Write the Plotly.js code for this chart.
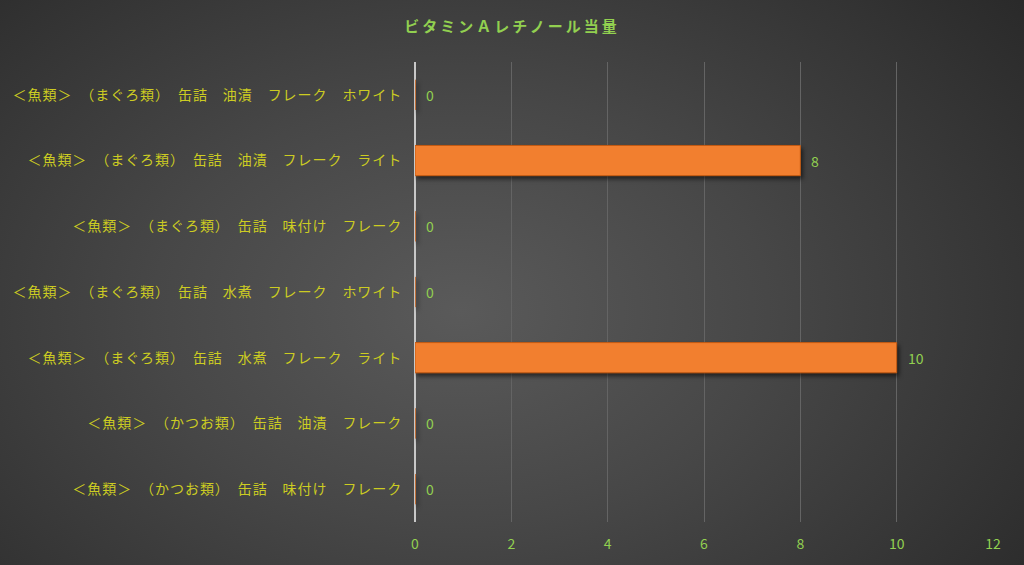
<!DOCTYPE html>
<html><head><meta charset="utf-8">
<script src="https://cdn.plot.ly/plotly-3.0.1.min.js"></script>
<style>
html,body{margin:0;padding:0;width:1024px;height:565px;overflow:hidden;}
body{background:radial-gradient(ellipse 75% 95% at 45% 55%, #5a5a5a 0%, #474747 40%, #262626 100%);}
#chart{width:1024px;height:565px;}
.gtitle{letter-spacing:3px;}
.ytick text{letter-spacing:0.95px;}
.bars .point path{filter:drop-shadow(2px 3px 2px rgba(0,0,0,0.55));}
</style></head>
<body><div id="chart"></div>
<script>
const categories = [
  "＜魚類＞　（まぐろ類）　缶詰　油漬　フレーク　ホワイト",
  "＜魚類＞　（まぐろ類）　缶詰　油漬　フレーク　ライト",
  "＜魚類＞　（まぐろ類）　缶詰　味付け　フレーク",
  "＜魚類＞　（まぐろ類）　缶詰　水煮　フレーク　ホワイト",
  "＜魚類＞　（まぐろ類）　缶詰　水煮　フレーク　ライト",
  "＜魚類＞　（かつお類）　缶詰　油漬　フレーク",
  "＜魚類＞　（かつお類）　缶詰　味付け　フレーク"
];
const values = [0, 8, 0, 0, 10, 0, 0];
const chartTitle = "ビタミンＡレチノール当量";
const xTicks = [0, 2, 4, 6, 8, 10, 12];

const font = '"Noto Sans CJK JP", "Noto Sans", sans-serif';
const labels = values.map((v, i) => ({
  x: v, y: categories[i], xref: 'x', yref: 'y',
  text: String(v), showarrow: false, xanchor: 'left', xshift: 9,
  font: {family: font, size: 14, color: '#92d050'}
}));
Plotly.newPlot('chart', [{
  type: 'bar',
  orientation: 'h',
  y: categories,
  x: values,
  marker: {color: '#f27f2f', line: {color: '#c55a11', width: 1}},
  cliponaxis: false,
  hoverinfo: 'x+y'
}], {
  width: 1024, height: 565,
  paper_bgcolor: 'rgba(0,0,0,0)',
  plot_bgcolor: 'rgba(0,0,0,0)',
  margin: {l: 415, r: 31, t: 62, b: 43},
  bargap: 0.54,
  showlegend: false,
  annotations: labels,
  title: {text: chartTitle, x: 0.5, xanchor: 'center', y: 0.952, yanchor: 'middle',
          font: {family: font, size: 15, color: '#92d050', weight: 'bold'}},
  xaxis: {
    range: [0, 12], tickvals: xTicks, ticktext: xTicks.map(String),
    showgrid: true, gridcolor: '#646464', gridwidth: 1,
    zeroline: true, zerolinecolor: '#c8c8c8', zerolinewidth: 1.5,
    showline: false, ticks: '', ticklabelstandoff: 12,
    tickfont: {family: font, size: 14, color: '#92d050'}
  },
  yaxis: {
    autorange: 'reversed', showgrid: false, zeroline: false, showline: false,
    ticks: 'outside', ticklen: 9, tickcolor: 'rgba(0,0,0,0)',
    tickfont: {family: font, size: 14, color: '#cccc22'}
  }
}, {displayModeBar: false});
</script></body></html>
